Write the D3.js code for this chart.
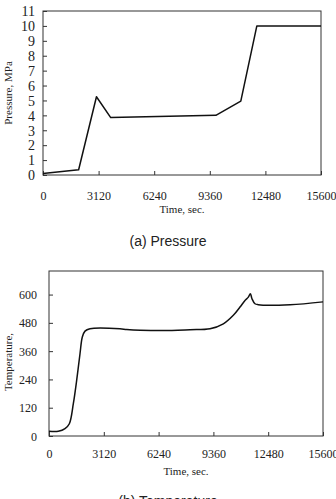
<!DOCTYPE html>
<html>
<head>
<meta charset="utf-8">
<script src="https://cdn.jsdelivr.net/npm/d3@7"></script>
<style>
  body { margin: 0; background: #fff; }
  svg { display: block; }
  .serif { font-family: "Liberation Serif", "DejaVu Serif", serif; fill: #222; }
  .cap { font-family: "Liberation Sans Narrow", "Liberation Sans", sans-serif; fill: #222; }
</style>
</head>
<body>
<div id="chart"></div>
<script>
// data
var xTicks = [0, 3120, 6240, 9360, 12480, 15600];

var presTime = [0, 2000, 3000, 3800, 9700, 11100, 12000, 15600];
var presVal = [0.1, 0.35, 5.25, 3.85, 4.0, 4.95, 10.0, 10.0];
var presTicks = [0, 1, 2, 3, 4, 5, 6, 7, 8, 9, 10, 11];

var tempTime = [0, 530, 911, 1158, 1385, 1575, 1765, 1897, 2050, 2334, 4042, 4423, 5200, 7000, 8028, 9167, 9925, 10495, 10874, 11159, 11349, 11464, 11557, 11727, 11917, 13722, 15600];
var tempVal = [20, 20, 31, 52, 137, 236, 349, 420, 445, 455, 455, 452, 449, 448, 451, 455, 476, 512, 547, 575, 589, 604, 582, 561, 557, 557, 569];
var tempTicks = [0, 120, 240, 360, 480, 600];

var width = 336, height = 499;

var svg = d3.select("#chart").append("svg")
    .attr("width", width)
    .attr("height", height);

function drawPanel(o) {
  var x = d3.scaleLinear().domain([0, 15600]).range([o.left, o.right]);
  var y = d3.scaleLinear().domain(o.yDomain).range([o.bottom, o.top]);

  var g = svg.append("g");

  // frame
  g.append("rect")
      .attr("x", o.left).attr("y", o.top)
      .attr("width", o.right - o.left).attr("height", o.bottom - o.top)
      .attr("fill", "none").attr("stroke", "#333").attr("stroke-width", 1);

  // bottom axis, ticks pointing in
  var xAxis = g.append("g")
      .attr("transform", `translate(0, ${o.bottom})`)
      .call(d3.axisBottom(x).tickValues(xTicks).tickSizeInner(-4).tickSizeOuter(0).tickPadding(0).tickFormat(d3.format("d")));
  xAxis.select(".domain").remove();
  xAxis.selectAll("line").attr("stroke", "#333");
  xAxis.selectAll("text").remove();
  xAxis.selectAll(".tick").append("text")
      .attr("class", "serif")
      .attr("y", o.xLabelY - o.bottom)
      .attr("text-anchor", "middle")
      .style("font-size", o.xFont + "px")
      .text(d => d);

  // left axis, ticks pointing in
  var yAxis = g.append("g")
      .attr("transform", `translate(${o.left}, 0)`)
      .call(d3.axisLeft(y).tickValues(o.yTicks).tickSizeInner(-4).tickSizeOuter(0));
  yAxis.select(".domain").remove();
  yAxis.selectAll("line").attr("stroke", "#333");
  yAxis.selectAll("text").remove();
  yAxis.selectAll(".tick").append("text")
      .attr("class", "serif")
      .attr("x", o.yLabelX - o.left)
      .attr("dy", "0.34em")
      .attr("text-anchor", "end")
      .style("font-size", o.yFont + "px")
      .text(d => d);

  // line
  var pts = o.xs.map((t, i) => [t, o.ys[i]]);
  g.append("path")
      .datum(pts)
      .attr("fill", "none")
      .attr("stroke", "#111")
      .attr("stroke-width", 1.5)
      .attr("stroke-linejoin", "round")
      .attr("d", d3.line().x(d => x(d[0])).y(d => y(d[1])).curve(o.curve));

  // titles
  g.append("text").attr("class", "serif")
      .attr("x", (o.left + o.right) / 2).attr("y", o.xTitleY)
      .attr("text-anchor", "middle").style("font-size", "11px")
      .text("Time, sec.");
  g.append("text").attr("class", "serif")
      .attr("transform", `translate(${o.yTitleX}, ${o.yTitleMid}) rotate(-90)`)
      .attr("text-anchor", "middle").style("font-size", o.yTitleFont + "px")
      .text(o.yTitle);
  g.append("text").attr("class", "cap")
      .attr("x", 168).attr("y", o.capY)
      .attr("text-anchor", "middle").style("font-size", "14px")
      .text(o.caption);
}

drawPanel({
  left: 43, right: 321, top: 11, bottom: 175,
  yDomain: [0, 11], yTicks: presTicks,
  xs: presTime, ys: presVal, curve: d3.curveLinear,
  xLabelY: 200, xFont: 12, yLabelX: 35, yFont: 14,
  xTitleY: 213, yTitleX: 12, yTitleMid: 93, yTitle: "Pressure, MPa", yTitleFont: 11,
  capY: 246, caption: "(a) Pressure"
});

drawPanel({
  left: 49, right: 323, top: 271, bottom: 436,
  yDomain: [0, 700], yTicks: tempTicks,
  xs: tempTime, ys: tempVal, curve: d3.curveCatmullRom.alpha(0.5),
  xLabelY: 458, xFont: 12, yLabelX: 37, yFont: 12,
  xTitleY: 475, yTitleX: 12, yTitleMid: 362, yTitle: "Temperature,", yTitleFont: 11,
  capY: 506, caption: "(b) Temperature"
});
</script>
</body>
</html>
